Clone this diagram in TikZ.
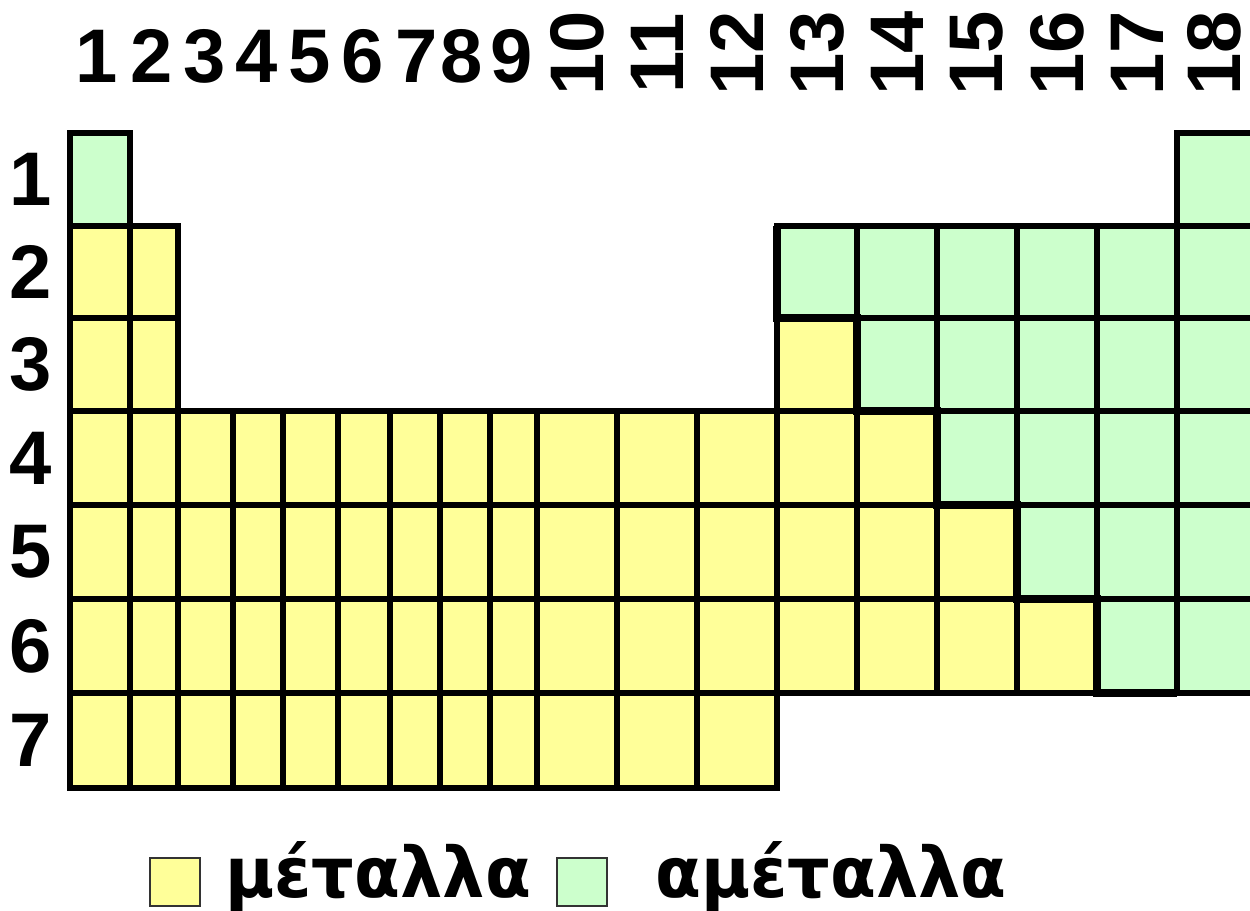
\documentclass[tikz,border=0pt]{standalone}
\usepackage{fontspec}
\usepackage{graphicx}
\setmainfont{Liberation Sans}
\newfontfamily\grk{DejaVu Sans}
\definecolor{cellY}{HTML}{FFFF99}
\definecolor{cellG}{HTML}{CCFFCC}
\tikzset{
  cell/.style={draw=black, line width=2.75pt},
  stair/.style={draw=black, line width=3.8pt},
  numlab/.style={inner sep=0pt, font=\fontsize{38}{40}\selectfont\bfseries},
  leglab/.style={inner sep=0pt, anchor=base west, font=\grk\fontsize{35}{38}\selectfont\bfseries},
  legbox/.style={draw=black!80, line width=1pt}
}
\begin{document}
\begin{tikzpicture}[x=0.5pt, y=-0.5pt]
\useasboundingbox (0,0) rectangle (1250,911);
\clip (0,0) rectangle (1250,911);
\def\xarr{{70,130,178,233,283,338,390,440,490,537,617,697,777,857,937,1017,1097,1177,1257}}
\def\yarr{{133,226,318,411,505,599,693,788}}
\foreach \r/\cells in {
  1/{1/G,18/G},
  2/{1/Y,2/Y,13/G,14/G,15/G,16/G,17/G,18/G},
  3/{1/Y,2/Y,13/Y,14/G,15/G,16/G,17/G,18/G},
  4/{1/Y,2/Y,3/Y,4/Y,5/Y,6/Y,7/Y,8/Y,9/Y,10/Y,11/Y,12/Y,13/Y,14/Y,15/G,16/G,17/G,18/G},
  5/{1/Y,2/Y,3/Y,4/Y,5/Y,6/Y,7/Y,8/Y,9/Y,10/Y,11/Y,12/Y,13/Y,14/Y,15/Y,16/G,17/G,18/G},
  6/{1/Y,2/Y,3/Y,4/Y,5/Y,6/Y,7/Y,8/Y,9/Y,10/Y,11/Y,12/Y,13/Y,14/Y,15/Y,16/Y,17/G,18/G},
  7/{1/Y,2/Y,3/Y,4/Y,5/Y,6/Y,7/Y,8/Y,9/Y,10/Y,11/Y,12/Y}}{
  \foreach \c/\t in \cells {
    \pgfmathsetmacro\xa{\xarr[\c-1]}
    \pgfmathsetmacro\xb{\xarr[\c]}
    \pgfmathsetmacro\ya{\yarr[\r-1]}
    \pgfmathsetmacro\yb{\yarr[\r]}
    \filldraw[cell, fill=cell\t] (\xa,\ya) rectangle (\xb,\yb);
  }
}
% metal / non-metal boundary
\draw[stair] (777,226) -- (777,318) -- (857,318) -- (857,411) -- (937,411) -- (937,505)
  -- (1017,505) -- (1017,599) -- (1097,599) -- (1097,693) -- (1177,693);
% group numbers
\foreach \n/\x in {1/97,2/152,3/205,4/257,5/310,6/363,7/417,8/462,9/512}
  \node[numlab, anchor=base] (g\n) at (\x,82) {\n};
\foreach \n/\x in {10/577,11/657,12/737,13/817,14/897,15/977,16/1057,17/1137,18/1214}
  \node[numlab, rotate=90, anchor=center] (g\n) at (\x,53.5) {\n};
% period numbers
\foreach \n/\y in {1/179.5,2/272,3/364.5,4/458,5/552,6/646,7/740.5}
  \node[numlab, anchor=center] (p\n) at (31,\y) {\n};
% legend
\draw[legbox, fill=cellY] (150,858) rectangle (200,906);
\node[leglab] (metals) at (225,897) {\scalebox{0.955}[1]{μέταλλα}};
\draw[legbox, fill=cellG] (557,858) rectangle (607,906);
\node[leglab] (nonmetals) at (655,897) {\scalebox{0.955}[1]{αμέταλλα}};
\end{tikzpicture}
\end{document}
